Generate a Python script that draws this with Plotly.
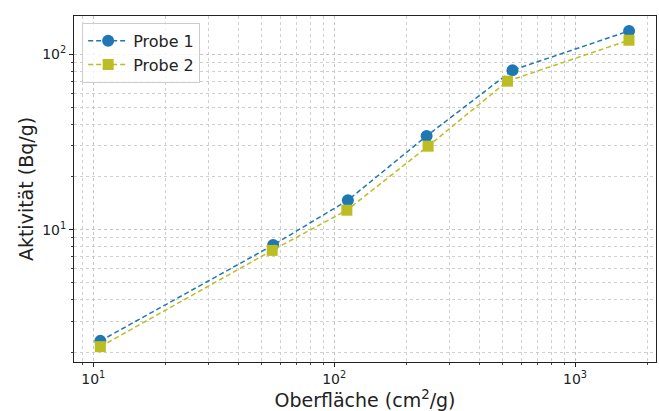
import plotly.graph_objects as go

oberflaeche_1 = [10.7, 55.8, 114, 242, 550, 1676]
aktivitaet_1 = [2.32, 8.16, 14.7, 34.2, 81.1, 135.8]
oberflaeche_2 = [10.7, 55.3, 112.9, 245.5, 524, 1674]
aktivitaet_2 = [2.15, 7.61, 12.9, 29.9, 70.2, 120.2]

x_tickvals = [10, 100, 1000]
x_ticktext = ["10<sup>1</sup>", "10<sup>2</sup>", "10<sup>3</sup>"]
y_tickvals = [10, 100]
y_ticktext = ["10<sup>1</sup>", "10<sup>2</sup>"]
x_minor = [m * d for d in [1, 10, 100, 1000] for m in range(2, 10)]
y_minor = [m * d for d in [1, 10, 100] for m in range(2, 10)]

fig = go.Figure()
fig.add_trace(go.Scatter(
    x=oberflaeche_1, y=aktivitaet_1, name="Probe 1", mode="lines+markers",
    line=dict(color="#1f77b4", dash="5px,3px", width=1.5),
    marker=dict(symbol="circle", size=12, color="#1f77b4")))
fig.add_trace(go.Scatter(
    x=oberflaeche_2, y=aktivitaet_2, name="Probe 2", mode="lines+markers",
    line=dict(color="#bcbd22", dash="5px,3px", width=1.5),
    marker=dict(symbol="square", size=11, color="#bcbd22")))

axis_common = dict(
    type="log", showline=True, mirror=True, linecolor="#222", linewidth=1,
    ticks="outside", ticklen=4, tickcolor="#222", automargin=False,
    showgrid=True, gridcolor="#c4c4c4", griddash="dot", gridwidth=1,
    zeroline=False,
    tickfont=dict(family="DejaVu Sans", size=14, color="#222"),
)

fig.update_xaxes(axis_common, range=[0.92, 3.336], tickmode="array", tickvals=x_tickvals, ticktext=x_ticktext,
                 minor=dict(tickmode="array", tickvals=x_minor, ticks="outside", ticklen=2, tickcolor="#444",
                            showgrid=True, gridcolor="#d0d0d0", griddash="dot", gridwidth=1),
                 title=dict(text="Oberfläche (cm<sup>2</sup>/g)", font=dict(family="DejaVu Sans", size=19, color="#222"), standoff=6))
fig.update_yaxes(axis_common, range=[0.245, 2.218], tickmode="array", tickvals=y_tickvals, ticktext=y_ticktext,
                 minor=dict(tickmode="array", tickvals=y_minor, ticks="outside", ticklen=2, tickcolor="#444",
                            showgrid=True, gridcolor="#d0d0d0", griddash="dot", gridwidth=1),
                 title=dict(text="Aktivität (Bq/g)", font=dict(family="DejaVu Sans", size=19, color="#222"), standoff=3))

fig.update_layout(
    width=659, height=411,
    margin=dict(l=74, r=3, t=16, b=49),
    paper_bgcolor="white", plot_bgcolor="white",
    font=dict(family="DejaVu Sans"),
    legend=dict(x=0.014, y=0.98, xanchor="left", yanchor="top", itemwidth=40,
                bgcolor="rgba(255,255,255,0.8)", bordercolor="#ccc", borderwidth=1,
                font=dict(family="DejaVu Sans", size=16, color="#222")),
)

fig.write_html("out.html", config={"displayModeBar": False},
               post_script="document.body.style.margin='0';document.body.style.overflow='hidden';")
